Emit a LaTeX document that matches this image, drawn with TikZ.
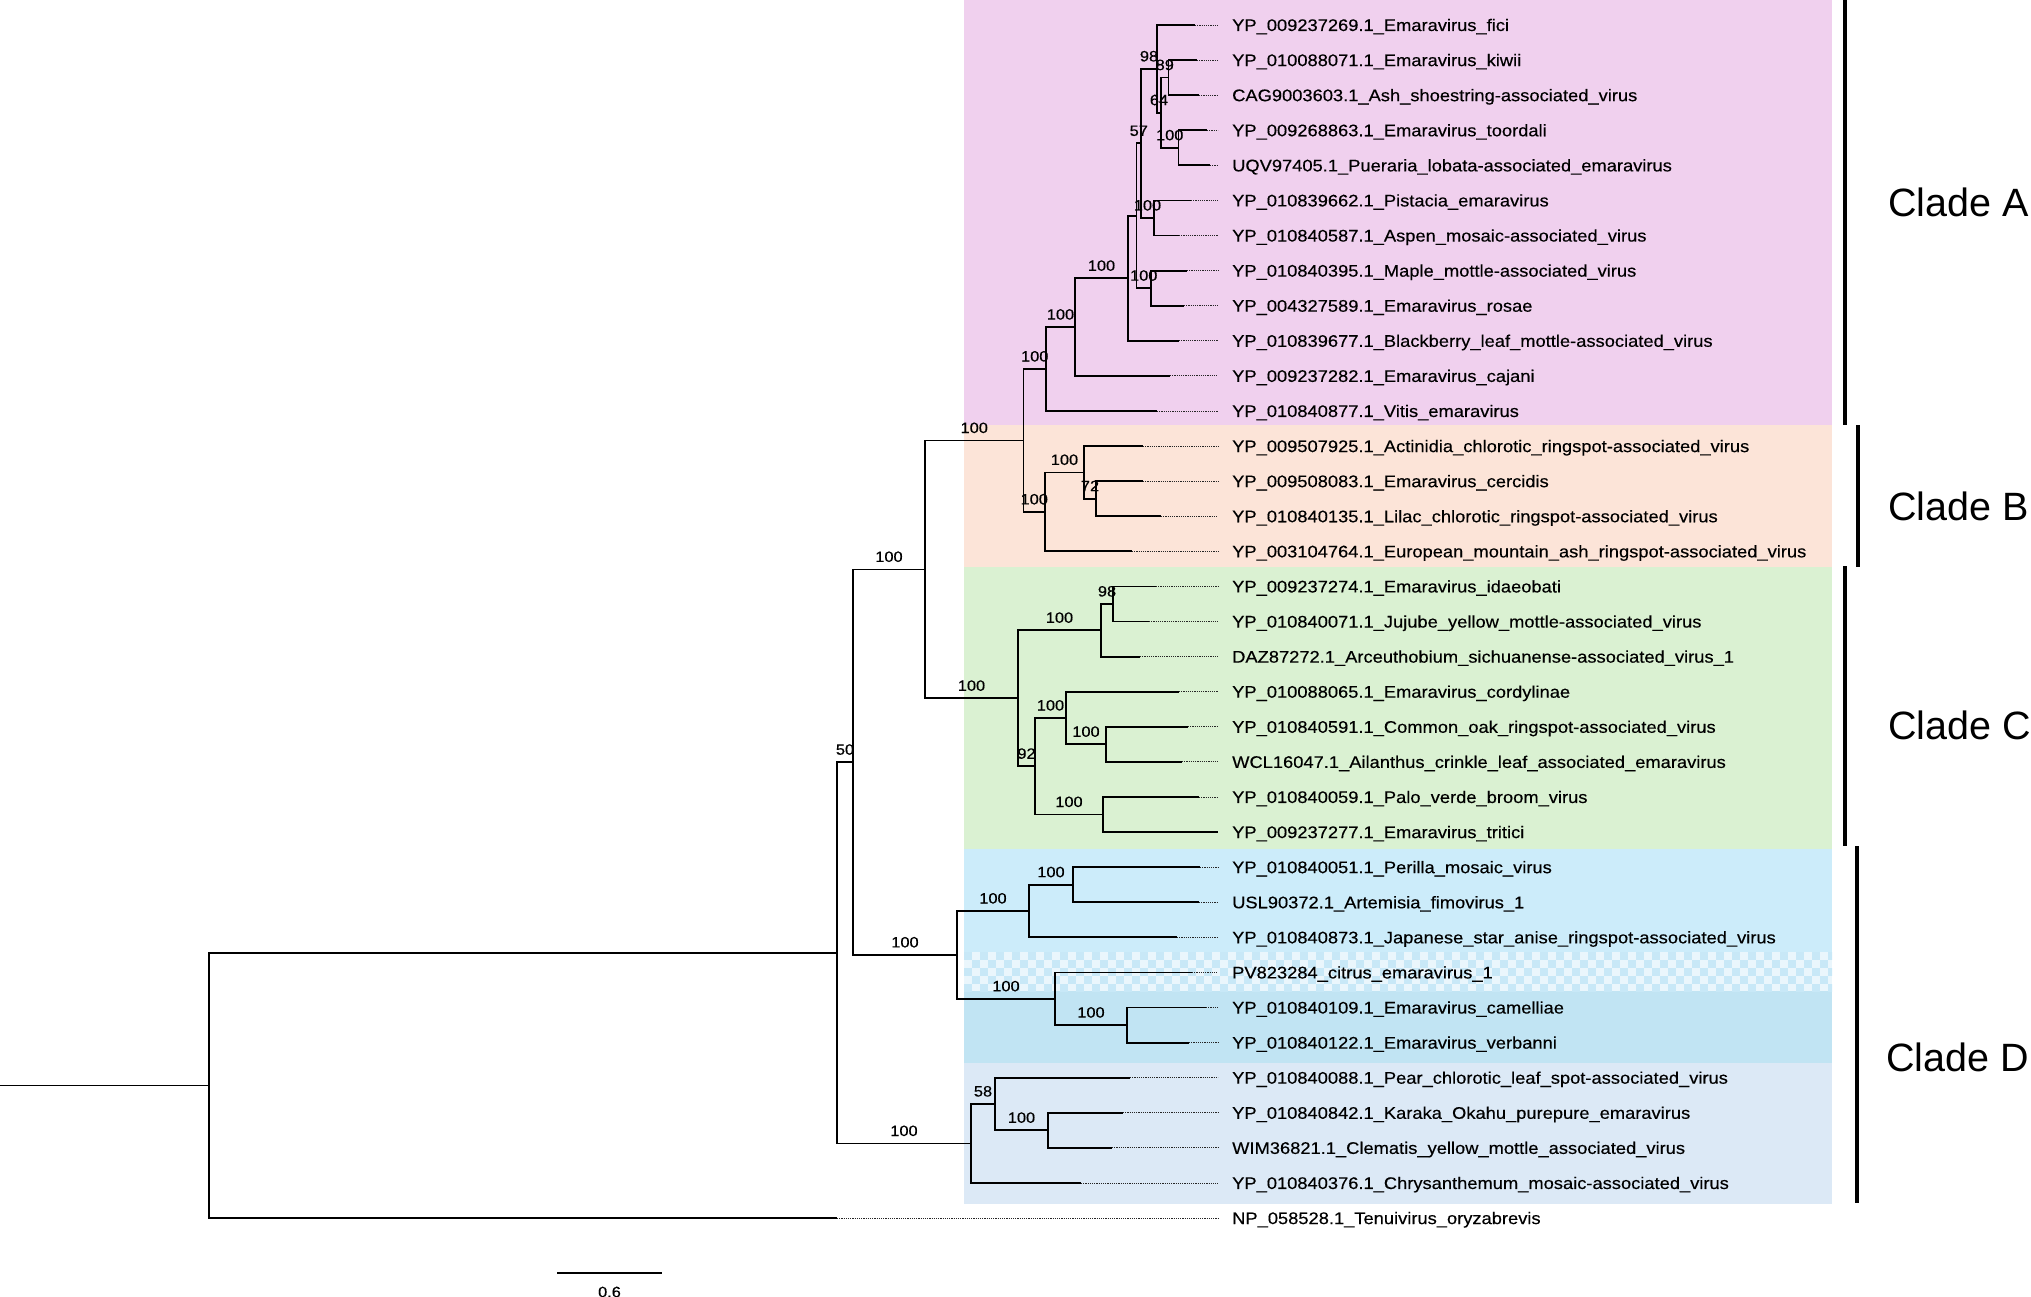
\documentclass[tikz,border=0pt]{standalone}
\usepackage{fontspec}
\setmainfont{Liberation Sans}
\newfontfamily\lf{Liberation Sans}[FakeStretch=1.09,FakeBold=0.35]
\definecolor{bandA}{HTML}{F0D0EE}
\definecolor{bandB}{HTML}{FCE4D8}
\definecolor{bandC}{HTML}{DAF1D2}
\definecolor{bandD}{HTML}{CCECFA}
\definecolor{bandDb}{HTML}{C1E4F3}
\definecolor{bandDc}{HTML}{DCE9F6}
\definecolor{chkA}{HTML}{EAF6FC}
\definecolor{chkB}{HTML}{C8E8F7}
\tikzset{
  br/.style={line width=1.8pt, line join=miter},
  dotline/.style={line width=0.9pt, black!85, dash pattern=on 1.1pt off 1.1pt},
  leaflab/.style={anchor=base west, inner sep=0pt, font=\lf\fontsize{16.8}{20}\selectfont},
  boot/.style={pos=0.75, anchor=base, yshift=7.5pt, inner sep=0pt, font=\lf\fontsize{15}{18}\selectfont},
  cladebar/.style={line width=4.5pt},
  cladelab/.style={anchor=west, inner sep=0pt, font=\fontsize{39.5}{46}\selectfont},
}
\newcommand\leaf[4]{%
  \coordinate (#1) at (#2,{25+35.09*#3});
  \coordinate (#1e) at (1218,{25+35.09*#3});
  \draw[dotline] (#1) -- (#1e);
  \node[leaflab] (#1l) at (1232,{31+35.09*#3}) {#4};
}
\begin{document}
\begin{tikzpicture}[x=1pt,y=-1pt]
\useasboundingbox (0,0) rectangle (2031,1297);
% background bands
\fill[bandA] (964,0) rectangle (1832,425);
\fill[bandB] (964,425) rectangle (1832,567);
\fill[bandC] (964,567) rectangle (1832,849);
\fill[bandD] (964,849) rectangle (1832,952);
\fill[bandDb] (964,991) rectangle (1832,1063);
\fill[bandDc] (964,1063) rectangle (1832,1204);
\begin{scope}
\clip (964,952) rectangle (1832,991);
\fill[chkA] (964,952) rectangle (1832,991);
\foreach \i in {0,...,108}{\foreach \j in {0,...,4}{
  \pgfmathparse{int(mod(\i+\j,2))}
  \ifnum\pgfmathresult=0 \fill[chkB] ({964+8*\i},{952+8*\j}) rectangle ++(8,8);\fi
}}
\end{scope}
% leaves
\leaf{fici}{1195}{0}{YP\_009237269.1\_Emaravirus\_fici}
\leaf{kiwii}{1197}{1}{YP\_010088071.1\_Emaravirus\_kiwii}
\leaf{ash}{1199}{2}{CAG9003603.1\_Ash\_shoestring-associated\_virus}
\leaf{toordali}{1207}{3}{YP\_009268863.1\_Emaravirus\_toordali}
\leaf{pueraria}{1210}{4}{UQV97405.1\_Pueraria\_lobata-associated\_emaravirus}
\leaf{pistacia}{1191}{5}{YP\_010839662.1\_Pistacia\_emaravirus}
\leaf{aspen}{1179}{6}{YP\_010840587.1\_Aspen\_mosaic-associated\_virus}
\leaf{maple}{1187}{7}{YP\_010840395.1\_Maple\_mottle-associated\_virus}
\leaf{rosae}{1184}{8}{YP\_004327589.1\_Emaravirus\_rosae}
\leaf{blackberry}{1179}{9}{YP\_010839677.1\_Blackberry\_leaf\_mottle-associated\_virus}
\leaf{cajani}{1170}{10}{YP\_009237282.1\_Emaravirus\_cajani}
\leaf{vitis}{1157}{11}{YP\_010840877.1\_Vitis\_emaravirus}
\leaf{actinidia}{1143}{12}{YP\_009507925.1\_Actinidia\_chlorotic\_ringspot-associated\_virus}
\leaf{cercidis}{1143}{13}{YP\_009508083.1\_Emaravirus\_cercidis}
\leaf{lilac}{1161}{14}{YP\_010840135.1\_Lilac\_chlorotic\_ringspot-associated\_virus}
\leaf{european}{1132}{15}{YP\_003104764.1\_European\_mountain\_ash\_ringspot-associated\_virus}
\leaf{idaeobati}{1156}{16}{YP\_009237274.1\_Emaravirus\_idaeobati}
\leaf{jujube}{1149}{17}{YP\_010840071.1\_Jujube\_yellow\_mottle-associated\_virus}
\leaf{arceuthobium}{1140}{18}{DAZ87272.1\_Arceuthobium\_sichuanense-associated\_virus\_1}
\leaf{cordylinae}{1179}{19}{YP\_010088065.1\_Emaravirus\_cordylinae}
\leaf{oak}{1188}{20}{YP\_010840591.1\_Common\_oak\_ringspot-associated\_virus}
\leaf{ailanthus}{1182}{21}{WCL16047.1\_Ailanthus\_crinkle\_leaf\_associated\_emaravirus}
\leaf{palo}{1199}{22}{YP\_010840059.1\_Palo\_verde\_broom\_virus}
\leaf{tritici}{1218}{23}{YP\_009237277.1\_Emaravirus\_tritici}
\leaf{perilla}{1200}{24}{YP\_010840051.1\_Perilla\_mosaic\_virus}
\leaf{artemisia}{1199}{25}{USL90372.1\_Artemisia\_fimovirus\_1}
\leaf{anise}{1177}{26}{YP\_010840873.1\_Japanese\_star\_anise\_ringspot-associated\_virus}
\leaf{citrus}{1192}{27}{PV823284\_citrus\_emaravirus\_1}
\leaf{camelliae}{1206}{28}{YP\_010840109.1\_Emaravirus\_camelliae}
\leaf{verbanni}{1189}{29}{YP\_010840122.1\_Emaravirus\_verbanni}
\leaf{pear}{1130}{30}{YP\_010840088.1\_Pear\_chlorotic\_leaf\_spot-associated\_virus}
\leaf{karaka}{1123}{31}{YP\_010840842.1\_Karaka\_Okahu\_purepure\_emaravirus}
\leaf{clematis}{1112}{32}{WIM36821.1\_Clematis\_yellow\_mottle\_associated\_virus}
\leaf{chrys}{1081}{33}{YP\_010840376.1\_Chrysanthemum\_mosaic-associated\_virus}
\leaf{tenui}{837}{34}{NP\_058528.1\_Tenuivirus\_oryzabrevis}
% internal nodes
\coordinate (A9) at (1168.5,77.6);
\coordinate (A10) at (1178.5,147.8);
\coordinate (A8) at (1161,112.7);
\coordinate (A6) at (1157,68.9);
\coordinate (A7) at (1154,218.0);
\coordinate (A4) at (1141,143.4);
\coordinate (A5) at (1151,288.2);
\coordinate (A3) at (1136.5,215.8);
\coordinate (A2) at (1128,278.3);
\coordinate (A1) at (1075,327.1);
\coordinate (A) at (1046,369.0);
\coordinate (B2) at (1096,498.7);
\coordinate (B1) at (1084,472.4);
\coordinate (B) at (1045,511.9);
\coordinate (AB) at (1023.5,440.5);
\coordinate (C3) at (1113,604.0);
\coordinate (C1) at (1101,630.3);
\coordinate (C6) at (1106,744.3);
\coordinate (C4) at (1066,718.0);
\coordinate (C5) at (1103,814.5);
\coordinate (C2) at (1035,766.3);
\coordinate (C) at (1018,698.3);
\coordinate (ABC) at (925,569.4);
\coordinate (D4) at (1073,884.7);
\coordinate (D1) at (1029,911.0);
\coordinate (D5) at (1127,1025.1);
\coordinate (D2) at (1055,998.8);
\coordinate (D12) at (957,954.9);
\coordinate (N50) at (853,762.2);
\coordinate (D7) at (1048,1130.3);
\coordinate (D6) at (995,1104.0);
\coordinate (D3) at (971,1143.5);
\coordinate (I) at (837,952.9);
\coordinate (root) at (209,1085.5);
\coordinate (stub) at (0,1085.5);
% branches
\draw[br] (A9) |- (kiwii);
\draw[br] (A9) |- (ash);
\draw[br] (A10) |- (toordali);
\draw[br] (A10) |- (pueraria);
\draw[br] (A8) |- node[boot]{89} (A9);
\draw[br] (A8) |- node[boot]{100} (A10);
\draw[br] (A6) |- (fici);
\draw[br] (A6) |- node[boot]{64} (A8);
\draw[br] (A7) |- (pistacia);
\draw[br] (A7) |- (aspen);
\draw[br] (A4) |- node[boot]{98} (A6);
\draw[br] (A4) |- node[boot]{100} (A7);
\draw[br] (A5) |- (maple);
\draw[br] (A5) |- (rosae);
\draw[br] (A3) |- node[boot]{57} (A4);
\draw[br] (A3) |- node[boot]{100} (A5);
\draw[br] (A2) |- (A3);
\draw[br] (A2) |- (blackberry);
\draw[br] (A1) |- node[boot]{100} (A2);
\draw[br] (A1) |- (cajani);
\draw[br] (A) |- node[boot]{100} (A1);
\draw[br] (A) |- (vitis);
\draw[br] (B2) |- (cercidis);
\draw[br] (B2) |- (lilac);
\draw[br] (B1) |- (actinidia);
\draw[br] (B1) |- node[boot]{72} (B2);
\draw[br] (B) |- node[boot]{100} (B1);
\draw[br] (B) |- (european);
\draw[br] (AB) |- node[boot]{100} (A);
\draw[br] (AB) |- node[boot]{100} (B);
\draw[br] (C3) |- (idaeobati);
\draw[br] (C3) |- (jujube);
\draw[br] (C1) |- node[boot]{98} (C3);
\draw[br] (C1) |- (arceuthobium);
\draw[br] (C6) |- (oak);
\draw[br] (C6) |- (ailanthus);
\draw[br] (C4) |- (cordylinae);
\draw[br] (C4) |- node[boot]{100} (C6);
\draw[br] (C5) |- (palo);
\draw[br] (C5) |- (tritici);
\draw[br] (C2) |- node[boot]{100} (C4);
\draw[br] (C2) |- node[boot]{100} (C5);
\draw[br] (C) |- node[boot]{100} (C1);
\draw[br] (C) |- node[boot]{92} (C2);
\draw[br] (ABC) |- node[boot]{100} (AB);
\draw[br] (ABC) |- node[boot]{100} (C);
\draw[br] (D4) |- (perilla);
\draw[br] (D4) |- (artemisia);
\draw[br] (D1) |- node[boot]{100} (D4);
\draw[br] (D1) |- (anise);
\draw[br] (D5) |- (camelliae);
\draw[br] (D5) |- (verbanni);
\draw[br] (D2) |- (citrus);
\draw[br] (D2) |- node[boot]{100} (D5);
\draw[br] (D12) |- node[boot]{100} (D1);
\draw[br] (D12) |- node[boot]{100} (D2);
\draw[br] (N50) |- node[boot]{100} (ABC);
\draw[br] (N50) |- node[boot]{100} (D12);
\draw[br] (D7) |- (karaka);
\draw[br] (D7) |- (clematis);
\draw[br] (D6) |- (pear);
\draw[br] (D6) |- node[boot]{100} (D7);
\draw[br] (D3) |- node[boot]{58} (D6);
\draw[br] (D3) |- (chrys);
\draw[br] (I) |- node[boot]{50} (N50);
\draw[br] (I) |- node[boot]{100} (D3);
\draw[br] (root) |- (I);
\draw[br] (root) |- (tenui);
\draw[br] (stub) -- (root);
% clade bars and labels
\coordinate (caT) at (1845,0); \coordinate (caB) at (1845,425);
\coordinate (cbT) at (1858,425); \coordinate (cbB) at (1858,567);
\coordinate (ccT) at (1845,566); \coordinate (ccB) at (1845,846);
\coordinate (cdT) at (1857,846); \coordinate (cdB) at (1857,1203);
\draw[cladebar] (caT) -- (caB);
\draw[cladebar] (cbT) -- (cbB);
\draw[cladebar] (ccT) -- (ccB);
\draw[cladebar] (cdT) -- (cdB);
\node[cladelab] (cla) at (1888,202) {Clade A};
\node[cladelab] (clb) at (1888,506) {Clade B};
\node[cladelab] (clc) at (1888,725) {Clade C};
\node[cladelab] (cld) at (1886,1057) {Clade D};
% scale bar
\coordinate (sb1) at (557,1273);
\coordinate (sb2) at (662,1273);
\draw[line width=1.6pt] (sb1) -- (sb2);
\node[inner sep=0pt, font=\lf\fontsize{15}{18}\selectfont] (sbl) at (609.5,1292) {0.6};
\end{tikzpicture}
\end{document}
